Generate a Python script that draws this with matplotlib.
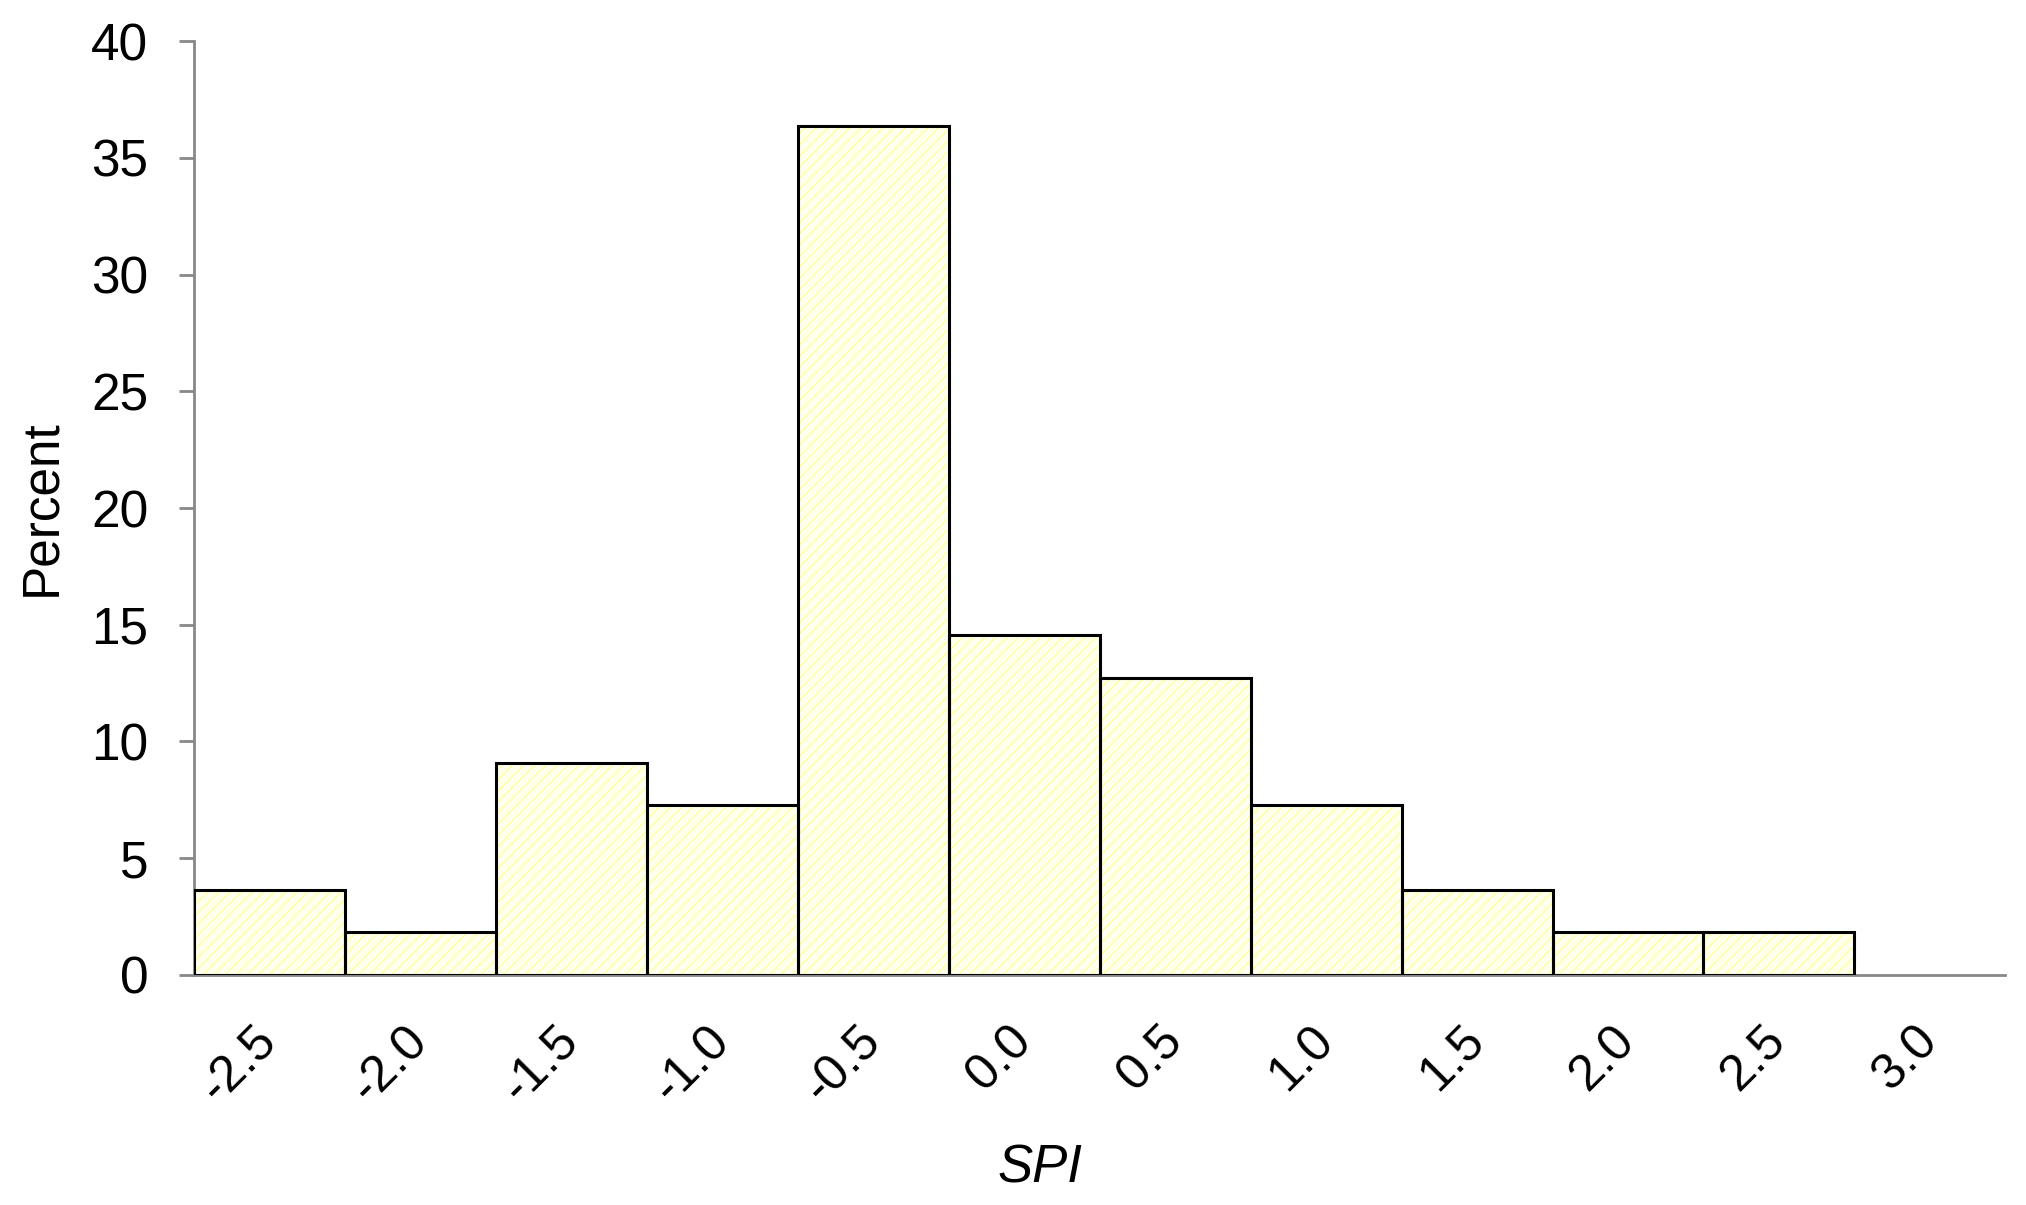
import numpy as np
import matplotlib
matplotlib.use("Agg")
import matplotlib.pyplot as plt

# SPI class centres and the share of cases in each class
spi_classes = ["-2.5", "-2.0", "-1.5", "-1.0", "-0.5", "0.0",
               "0.5", "1.0", "1.5", "2.0", "2.5", "3.0"]
percent = [3.64, 1.82, 9.09, 7.27, 36.36, 14.55,
           12.73, 7.27, 3.64, 1.82, 1.82, 0.0]

plt.rcParams['font.family'] = ['Liberation Sans', 'DejaVu Sans']
plt.rcParams['hatch.linewidth'] = 1.0

fig = plt.figure(figsize=(20.26, 12.05), dpi=100)
ax = fig.add_axes([0.0958, 0.1909, 0.894, 0.775])

x = np.arange(len(spi_classes))
# hatched pale-yellow fill
plt.rcParams['hatch.color'] = '#FFFFA0'
ax.bar(x, percent, width=1.0, color='#FFFFEE', edgecolor='#FFFFA0',
       linewidth=0, hatch='///', zorder=2)
# black outlines
heights = np.array(percent)
mask = heights > 0
ax.bar(x[mask], heights[mask], width=1.0, fill=False, edgecolor='black',
       linewidth=2.2, zorder=3)

ax.set_xlim(-0.5, len(spi_classes) - 0.5)
ax.set_ylim(0, 40)
ax.set_yticks(np.arange(0, 41, 5))
ax.set_xticks(x)
ax.set_xticklabels(spi_classes, rotation=45, ha='right', va='center',
                   rotation_mode='anchor')

for side in ['top', 'right']:
    ax.spines[side].set_visible(False)
for side in ['left', 'bottom']:
    ax.spines[side].set_color('#888888')
    ax.spines[side].set_linewidth(2.0)

ax.tick_params(axis='y', direction='out', length=11, width=2.0,
               color='#888888', labelsize=37, pad=22)
ax.tick_params(axis='x', length=0, labelsize=36, pad=42)

ax.set_ylabel("Percent", fontsize=37, labelpad=18)
ax.set_xlabel("SPI", fontsize=38, style='italic', labelpad=14)
ax.xaxis.set_label_coords(0.467, -0.18)

fig.savefig("out.png", dpi=100)
